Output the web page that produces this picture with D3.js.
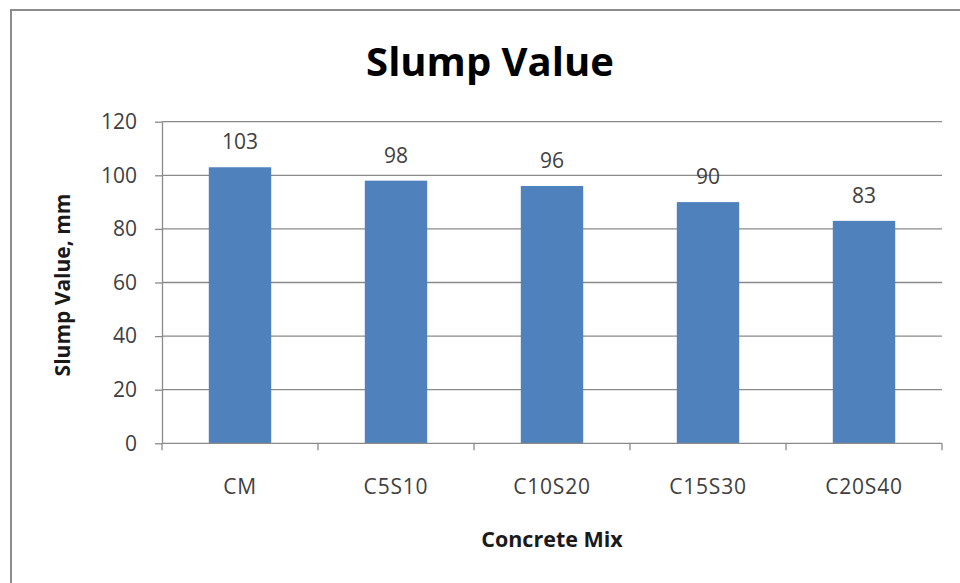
<!DOCTYPE html>
<html>
<head>
<meta charset="utf-8">
<script src="https://cdn.jsdelivr.net/npm/d3@7"></script>
<style>
  html, body { margin: 0; padding: 0; background: #fff; }
  svg { display: block; }
  text { font-family: "Open Sans", "DejaVu Sans", sans-serif; }
</style>
</head>
<body>
<svg id="chart" width="960" height="583"></svg>
<script>
// Slump test results per concrete mix
const categories = ["CM", "C5S10", "C10S20", "C15S30", "C20S40"];
const slumpValues = [103, 98, 96, 90, 83];
const yTicks = [0, 20, 40, 60, 80, 100, 120];

const svg = d3.select("#chart");
const W = 960, H = 583;
const plot = { left: 162, right: 942, top: 121.7, bottom: 443.3 };

// chart frame
svg.append("rect")
  .attr("x", 11).attr("y", 10)
  .attr("width", W + 20).attr("height", H + 20)
  .attr("fill", "#fff")
  .attr("stroke", "#8c8c8c").attr("stroke-width", 2);

const xOuter = d3.scaleBand().domain(categories).range([plot.left, plot.right]);
const y = d3.scaleLinear().domain([0, 120]).range([plot.bottom, plot.top]);

// horizontal gridlines
svg.append("g")
  .selectAll("line")
  .data(yTicks.filter(d => d > 0))
  .join("line")
  .attr("x1", plot.left).attr("x2", plot.right)
  .attr("y1", d => y(d)).attr("y2", d => y(d))
  .attr("stroke", "#8a8a8a").attr("stroke-width", 1.3);

// bars (gap width 150%)
svg.append("g")
  .selectAll("rect")
  .data(slumpValues)
  .join("rect")
  .attr("x", (d, i) => xOuter(categories[i]) + xOuter.bandwidth() * 0.3)
  .attr("width", xOuter.bandwidth() * 0.4)
  .attr("y", d => y(d))
  .attr("height", d => y(0) - y(d))
  .attr("fill", "#4f81bd");

// y axis
const yAxis = svg.append("g")
  .attr("transform", `translate(${plot.left},0)`)
  .call(d3.axisLeft(y).tickValues(yTicks).tickSize(7).tickPadding(18).tickSizeOuter(0));
yAxis.select(".domain").attr("stroke", "#8a8a8a").attr("stroke-width", 1.3);
yAxis.selectAll(".tick line").attr("stroke", "#8a8a8a").attr("stroke-width", 1.3);
yAxis.selectAll(".tick text")
  .attr("fill", "#404040")
  .style("font-size", "21px")
  .style("font-family", "'Open Sans', sans-serif");

// x axis: ticks sit on category boundaries
const boundaries = d3.range(categories.length + 1).map(i => plot.left + i * xOuter.step());
const xAxisG = svg.append("g");
xAxisG.append("line")
  .attr("x1", plot.left).attr("x2", plot.right)
  .attr("y1", plot.bottom).attr("y2", plot.bottom)
  .attr("stroke", "#8a8a8a").attr("stroke-width", 1.3);
xAxisG.selectAll("line.tk")
  .data(boundaries)
  .join("line").attr("class", "tk")
  .attr("x1", d => d).attr("x2", d => d)
  .attr("y1", plot.bottom).attr("y2", plot.bottom + 7)
  .attr("stroke", "#8a8a8a").attr("stroke-width", 1.3);
xAxisG.selectAll("text")
  .data(categories)
  .join("text")
  .attr("x", d => xOuter(d) + xOuter.bandwidth() / 2)
  .attr("y", 494)
  .attr("text-anchor", "middle")
  .attr("fill", "#404040")
  .style("font-size", "21px")
  .style("letter-spacing", "0.8px")
  .text(d => d);

// value labels
svg.append("g")
  .selectAll("text")
  .data(slumpValues)
  .join("text")
  .attr("x", (d, i) => xOuter(categories[i]) + xOuter.bandwidth() / 2)
  .attr("y", d => y(d) - 18)
  .attr("text-anchor", "middle")
  .attr("fill", "#404040")
  .style("font-size", "21px")
  .text(d => d);

// titles
svg.append("text")
  .attr("x", 490).attr("y", 76)
  .attr("text-anchor", "middle")
  .attr("fill", "#000")
  .style("font-size", "40px").style("font-weight", "bold")
  .text("Slump Value");

svg.append("text")
  .attr("x", 552).attr("y", 547)
  .attr("text-anchor", "middle")
  .attr("fill", "#1a1a1a")
  .style("font-size", "21.5px").style("font-weight", "bold")
  .text("Concrete Mix");

svg.append("text")
  .attr("transform", "translate(70,285) rotate(-90)")
  .attr("text-anchor", "middle")
  .attr("fill", "#1a1a1a")
  .style("font-size", "21px").style("font-weight", "bold")
  .text("Slump Value, mm");
</script>
</body>
</html>
